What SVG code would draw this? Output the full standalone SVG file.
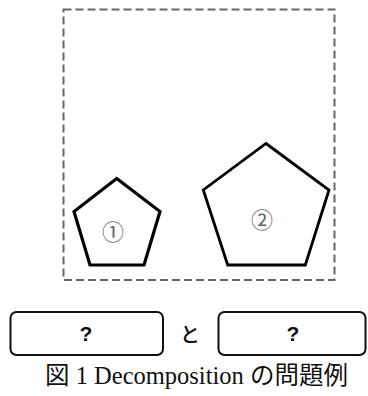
<svg xmlns="http://www.w3.org/2000/svg" width="368" height="396" viewBox="0 0 368 396">
<style>
.pent{fill:none;stroke:#000;stroke-linejoin:miter}
.box{fill:#fff;stroke:#111;stroke-width:2}
.num{font-family:"Noto Sans CJK JP",sans-serif;font-size:22px;fill:#666;text-anchor:middle;dominant-baseline:central}
.q{font-family:"Liberation Sans",Arial,sans-serif;font-weight:bold;font-size:21px;fill:#111;text-anchor:middle;dominant-baseline:central}
</style>
<rect width="368" height="396" fill="#fff"/>
<g id="frame">
<rect x="63.5" y="9.5" width="271" height="270.5" fill="none" stroke="#666" stroke-width="2" stroke-dasharray="8,4"/>
</g>
<g id="shape1">
<polygon class="pent" stroke-width="3.2" points="116.7,178.5 160,211.5 144,265 90,265 74,211.5"/>
<text class="num" x="113" y="230">①</text>
</g>
<g id="shape2">
<polygon class="pent" stroke-width="2.8" points="266,143.5 329,190 305.3,265 227.7,265 203.3,190"/>
<text class="num" x="262" y="218">②</text>
</g>
<g id="answer1">
<rect class="box" x="10.5" y="312" width="152.5" height="43" rx="6"/>
<text class="q" x="86" y="333.5">?</text>
</g>
<g id="and">
<text x="190" y="333" font-family="'Noto Sans CJK JP',sans-serif" font-size="20" font-weight="500" fill="#111" text-anchor="middle" dominant-baseline="central">と</text>
</g>
<g id="answer2">
<rect class="box" x="218.5" y="312" width="147" height="43" rx="6"/>
<text class="q" x="293" y="333.5">?</text>
</g>
<g id="caption">
<text x="196.5" y="384" font-family="'Liberation Serif','Noto Sans CJK JP',serif" font-size="24.5" fill="#111" text-anchor="middle">図 1 Decomposition の問題例</text>
</g>
</svg>
